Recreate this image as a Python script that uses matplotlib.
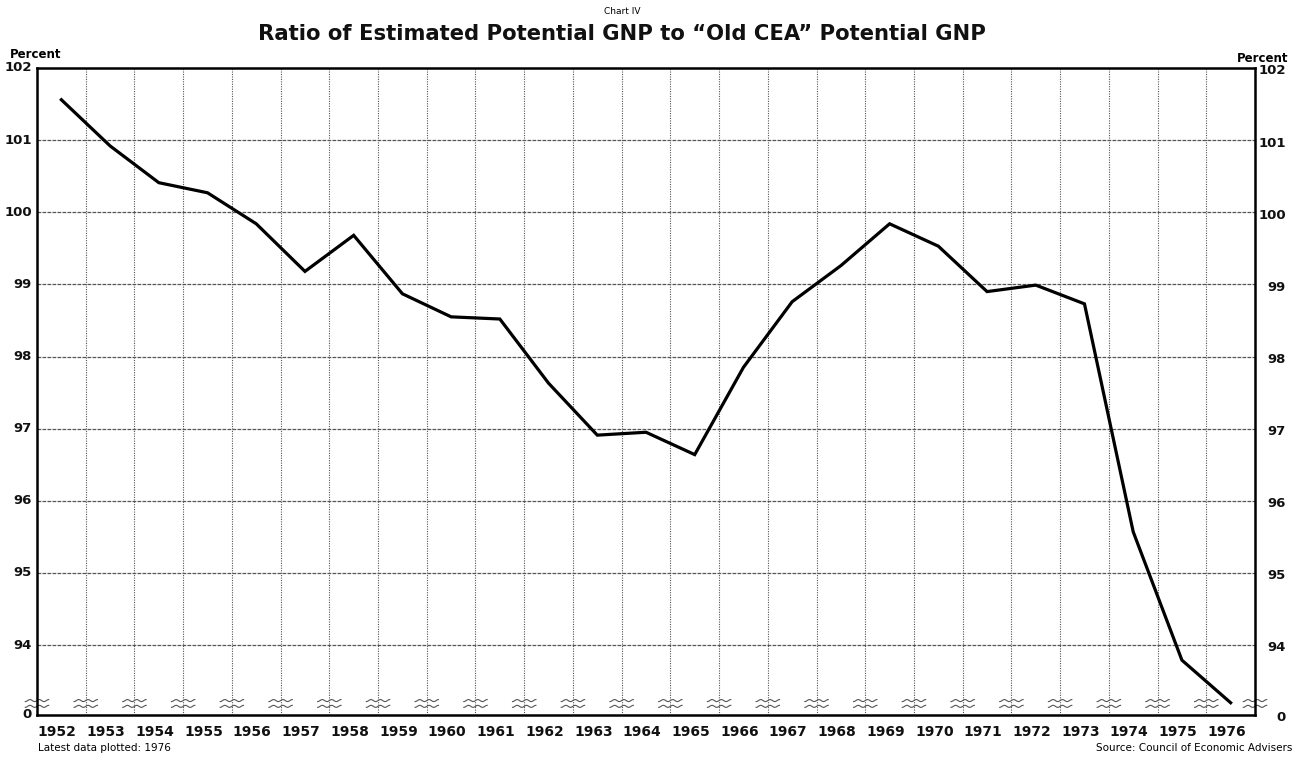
import numpy as np
import matplotlib
matplotlib.use("Agg")
import matplotlib.pyplot as plt
import matplotlib.transforms as mtransforms

# ---- data ----
years = list(range(1952, 1977))
ratio = [101.56, 100.92, 100.41, 100.27, 99.84, 99.18, 99.68, 98.87, 98.55, 98.52,
         97.63, 96.91, 96.95, 96.64, 97.85, 98.76, 99.26, 99.84, 99.53, 98.90,
         98.99, 98.73, 95.57, 93.79, 93.20]
ytick_values = [94, 95, 96, 97, 98, 99, 100, 101, 102]
ytick_labels = ["94", "95", "96", "97", "98", "99", "100", "101", "102"]
zero_label = "0"
title = "Ratio of Estimated Potential GNP to \u201cOld CEA\u201d Potential GNP"
supertitle = "Chart IV"
unit_label = "Percent"
note_left = "Latest data plotted: 1976"
note_right = "Source: Council of Economic Advisers"

# ---- figure ----
W, H = 1298, 760
fig = plt.figure(figsize=(W / 100, H / 100), dpi=100)
x0, x1 = 37 / W, 1255 / W
y_top, y_bot = 1 - 68 / H, 1 - 715 / H
ax = fig.add_axes([x0, y_bot, x1 - x0, y_top - y_bot])

ymin, ymax = 93.03, 102.0
ax.set_xlim(years[0] - 0.5, years[-1] + 0.5)
ax.set_ylim(ymin, ymax)

# grid
for v in ytick_values[:-1]:
    ax.axhline(v, color="#555555", lw=0.9, ls=(0, (3, 1)), zorder=1)
for yb in np.arange(years[0] + 0.5, years[-1] + 0.5, 1.0):
    ax.axvline(yb, color="#555555", lw=0.8, ls=(0, (1, 1.2)), zorder=1)

# break marks (wavy)
pos = np.arange(years[0] - 0.5, years[-1] + 0.51, 1.0)
t = np.linspace(-0.24, 0.24, 40)
for p in pos:
    for base in (93.23, 93.15):
        ax.plot(p + t, base + 0.014 * np.sin(t / 0.24 * 2.5 * np.pi),
                color="#555555", lw=0.8, zorder=2, clip_on=False)

# data line
ax.plot(years, ratio, color="black", lw=2.3, solid_joinstyle="miter", zorder=3)

# spines
for s in ax.spines.values():
    s.set_linewidth(1.8)
    s.set_color("black")

ax.set_yticks([])
ax.set_xticks(years)
ax.tick_params(axis="x", length=0, pad=7)
ax.set_xticklabels([str(y) for y in years], fontsize=10, fontweight="bold",
                   family="DejaVu Sans", color="#111111")
off = mtransforms.ScaledTranslation(-4 / 100, 0, fig.dpi_scale_trans)
for lab in ax.get_xticklabels():
    lab.set_transform(lab.get_transform() + off)

# y labels both sides
trans = mtransforms.blended_transform_factory(ax.transAxes, ax.transData)
lpad = 5 / (1255 - 37)
rpad = 31 / (1255 - 37)
for v, lab in zip(ytick_values + [ymin], ytick_labels + [zero_label]):
    ax.text(-lpad, v, lab, transform=trans, ha="right", va="center",
            fontsize=9.5, fontweight="bold", clip_on=False, color="#111111")
    ax.text(1 + rpad, v - 0.04, lab, transform=trans, ha="right", va="center",
            fontsize=9.5, fontweight="bold", clip_on=False, color="#111111")

fig.text(10 / W, 1 - 54 / H, unit_label, ha="left", va="center",
         fontsize=8.5, fontweight="bold")
fig.text(1288 / W, 1 - 59 / H, unit_label, ha="right", va="center",
         fontsize=8.5, fontweight="bold")

fig.text(622 / W, 1 - 12 / H, supertitle, ha="center", va="center", fontsize=6.5)
fig.text(622 / W, 1 - 34 / H, title, ha="center", va="center",
         fontsize=15.2, fontweight="bold", color="#111111")

fig.text(38 / W, 1 - 748 / H, note_left, ha="left", va="center", fontsize=7.5)
fig.text(1292 / W, 1 - 748 / H, note_right, ha="right", va="center", fontsize=7.5)

fig.savefig("out.png", dpi=100, facecolor="white")
